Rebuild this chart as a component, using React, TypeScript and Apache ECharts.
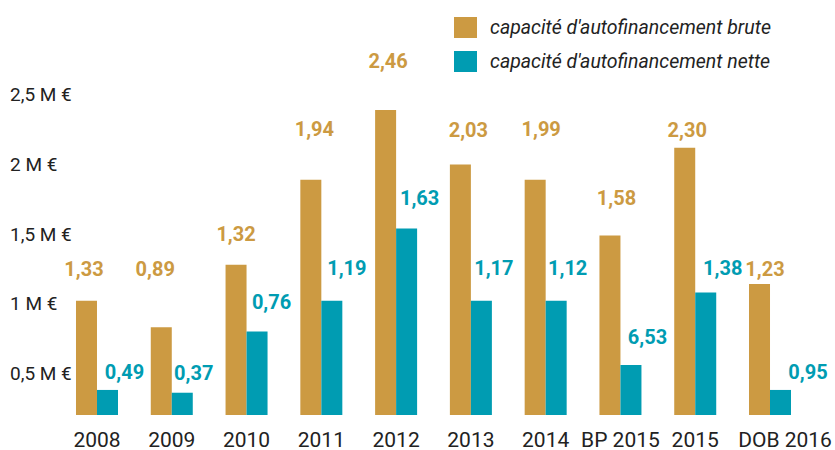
import React, { useEffect, useRef } from "react";
import * as echarts from "echarts";

const categories = ["2008", "2009", "2010", "2011", "2012", "2013", "2014", "BP 2015", "2015", "DOB 2016"];
// bar heights as drawn (M €)
const bruteValues = [1.02, 0.83, 1.28, 1.89, 2.39, 2.0, 1.89, 1.49, 2.12, 1.14];
const netteValues = [0.38, 0.36, 0.8, 1.02, 1.54, 1.02, 1.02, 0.56, 1.08, 0.38];
// figures printed above the bars
const bruteLabels = ["1,33", "0,89", "1,32", "1,94", "2,46", "2,03", "1,99", "1,58", "2,30", "1,23"];
const netteLabels = ["0,49", "0,37", "0,76", "1,19", "1,63", "1,17", "1,12", "6,53", "1,38", "0,95"];
const yTicks = [0.5, 1, 1.5, 2, 2.5];
const seriesNames = ["capacité d'autofinancement brute", "capacité d'autofinancement nette"];

// label placement (layout only)
const bruteLabelOffsets = [
  [-2.5, -32], [-6, -58], [0, -30.5], [3.5, -51], [2.5, -49],
  [8, -34.5], [6, -51], [6.5, -37], [2.5, -18], [5.5, -15.5],
];
const netteLabelOffsets = [
  [17, -17.5], [11.5, -19.5], [14.5, -29], [15, -33], [13, -30],
  [12.5, -33], [11.5, -33], [16.5, -27.5], [17, -24.5], [27.5, -17.5],
];
// extra left padding of some category labels (layout only)
const categoryLabelShift = [0, 0, 0, 0, 0, 0, 0, 0, 0, 30];

const GOLD = "#CC9A42";
const TEAL = "#009CB2";
const FONT = "Roboto, 'Noto Sans', sans-serif";

export default function App() {
  const ref = useRef<HTMLDivElement>(null);
  useEffect(() => {
    if (!ref.current) return;
    const chart = echarts.init(ref.current, null, { renderer: "svg" });
    const mkLabel = (color: string, texts: string[]) => ({
      show: true,
      position: "top",
      distance: 0,
      align: "center",
      verticalAlign: "middle",
      color,
      fontFamily: FONT,
      fontWeight: "bold",
      fontSize: 20,
      formatter: (p: any) => texts[p.dataIndex],
    });
    chart.setOption({
      animation: false,
      backgroundColor: "#ffffff",
      textStyle: { fontFamily: FONT },
      legend: {
        orient: "vertical",
        left: 449,
        top: 12,
        itemWidth: 23,
        itemHeight: 21,
        itemGap: 13,
        icon: "rect",
        textStyle: {
          fontFamily: FONT,
          fontStyle: "italic",
          fontSize: 19.5,
          color: "#222",
          padding: [0, 0, 0, 8],
        },
        data: seriesNames,
      },
      grid: {
        left: 59.6,
        right: 27.6,
        top: 53,
        bottom: 35,
        containLabel: false,
        outerBoundsMode: "none",
      },
      xAxis: {
        type: "category",
        data: categories.map((c, i) => ({
          value: c,
          textStyle: { padding: [0, 0, 0, categoryLabelShift[i]] },
        })),
        axisLine: { show: false },
        axisTick: { show: false },
        axisLabel: {
          margin: 14,
          color: "#222",
          fontFamily: FONT,
          fontSize: 21,
          interval: 0,
        },
      },
      yAxis: {
        type: "value",
        min: 0.2,
        max: 2.8,
        splitLine: { show: false },
        axisLine: { show: false },
        axisTick: { show: false },
        axisLabel: {
          customValues: yTicks,
          margin: 49.6,
          align: "left",
          color: "#222",
          fontFamily: FONT,
          fontSize: 19,
          formatter: (v: number) => String(v).replace(".", ",") + " M €",
        },
      },
      series: [
        {
          name: seriesNames[0],
          type: "bar",
          barWidth: 21,
          barGap: "0%",
          itemStyle: { color: GOLD },
          label: mkLabel(GOLD, bruteLabels),
          data: bruteValues.map((v, i) => ({ value: v, label: { offset: bruteLabelOffsets[i] } })),
        },
        {
          name: seriesNames[1],
          type: "bar",
          barWidth: 21,
          barGap: "0%",
          itemStyle: { color: TEAL },
          label: mkLabel(TEAL, netteLabels),
          data: netteValues.map((v, i) => ({ value: v, label: { offset: netteLabelOffsets[i] } })),
        },
      ],
    });
    return () => chart.dispose();
  }, []);
  return (
    <div
      ref={ref}
      style={{ position: "fixed", left: 0, top: 0, width: 835, height: 450, background: "#fff" }}
    />
  );
}
